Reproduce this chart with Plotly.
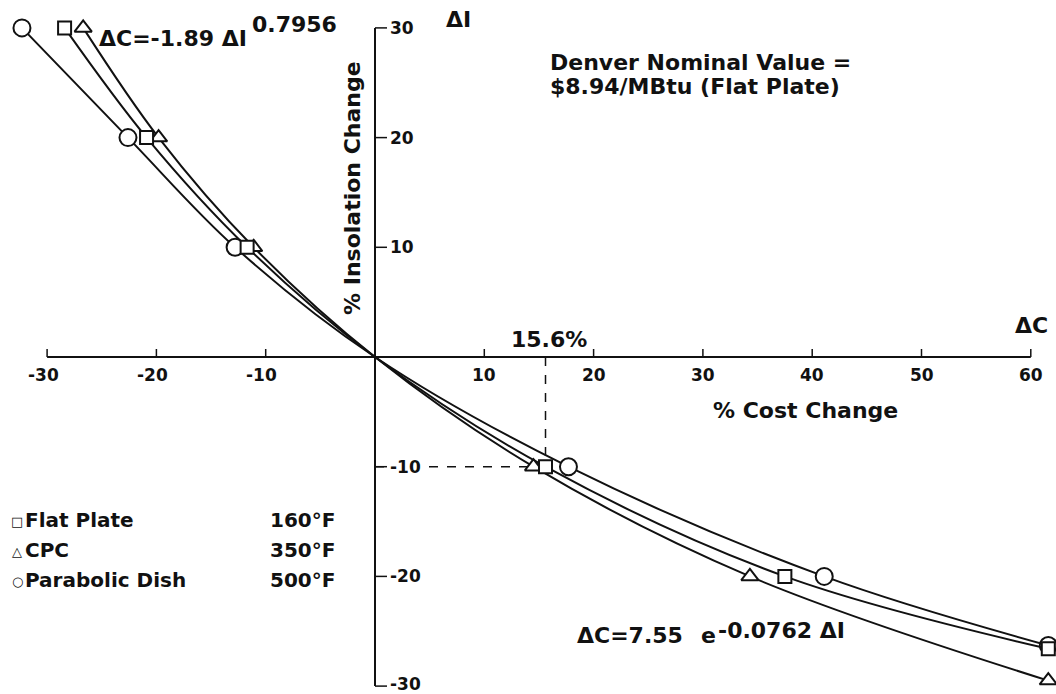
import plotly.graph_objects as go

# ---------------- data ----------------
flat_dC = [-28.4, -20.9, -11.7, 0, 15.6, 37.5, 61.6]
flat_dI = [30, 20, 10, 0, -10, -20, -26.6]
cpc_dC = [-26.7, -19.8, -11.1, 0, 14.5, 34.3, 61.6]
cpc_dI = [30, 20, 10, 0, -10, -20, -29.5]
dish_dC = [-32.3, -22.6, -12.8, 0, 17.7, 41.1, 61.6]
dish_dI = [30, 20, 10, 0, -10, -20, -26.3]

x_ticks = [-30, -20, -10, 10, 20, 30, 40, 50, 60]
y_ticks = [30, 20, 10, -10, -20, -30]
nominal_dC = 15.6
nominal_dI = -10

legend_names = ["Flat Plate", "CPC", "Parabolic Dish"]
legend_temps = ["160°F", "350°F", "500°F"]
legend_syms = ["□", "△", "○"]

# ---------------- layout helpers ----------------
W, H = 1056, 694
X0PIX, XSCALE = 375, 10.93
Y0PIX, YSCALE = 357, 10.97
x_range = [-X0PIX / XSCALE, (W - X0PIX) / XSCALE]
y_range = [-(H - Y0PIX) / YSCALE, Y0PIX / YSCALE]

FONT = "DejaVu Sans"
BLACK = "#111111"


def px(x):
    return x / W


def py(y):
    return 1 - y / H


fig = go.Figure()

series = [
    (dish_dC, dish_dI, "circle", 17),
    (cpc_dC, cpc_dI, "triangle-up", 15),
    (flat_dC, flat_dI, "square", 13),
]

for xs, ys, sym, sz in series:
    fig.add_trace(go.Scatter(
        x=xs, y=ys, mode="lines",
        line=dict(color=BLACK, width=2, shape="spline", smoothing=1.0),
        hoverinfo="skip", showlegend=False, cliponaxis=False,
    ))

for xs, ys, sym, sz in series:
    mx = [a for a, b in zip(xs, ys) if b != 0]
    my = [b for a, b in zip(xs, ys) if b != 0]
    fig.add_trace(go.Scatter(
        x=mx, y=my, mode="markers",
        marker=dict(symbol=sym, size=sz, color="white",
                    line=dict(color=BLACK, width=2)),
        showlegend=False, cliponaxis=False,
    ))

shapes = []
shapes.append(dict(type="line", xref="x", yref="y", x0=x_ticks[0], x1=x_ticks[-1], y0=0, y1=0,
                   line=dict(color=BLACK, width=2), layer="below"))
shapes.append(dict(type="line", xref="x", yref="y", x0=0, x1=0, y0=min(y_ticks), y1=max(y_ticks),
                   line=dict(color=BLACK, width=2), layer="below"))
for t in x_ticks:
    shapes.append(dict(type="line", xref="x", yref="y", x0=t, x1=t, ysizemode="pixel", yanchor=0,
                       y0=0, y1=8, line=dict(color=BLACK, width=1.5), layer="below"))
for t in y_ticks:
    shapes.append(dict(type="line", xref="x", yref="y", y0=t, y1=t, xsizemode="pixel", xanchor=0,
                       x0=0, x1=12, line=dict(color=BLACK, width=1.5), layer="below"))
shapes.append(dict(type="line", xref="x", yref="y", x0=0, x1=nominal_dC, y0=nominal_dI, y1=nominal_dI,
                   line=dict(color=BLACK, width=1.5, dash="dash"), layer="below"))
shapes.append(dict(type="line", xref="x", yref="y", x0=nominal_dC, x1=nominal_dC, y0=0, y1=nominal_dI,
                   line=dict(color=BLACK, width=1.5, dash="dash"), layer="below"))

ann = []
tickfont = dict(family=FONT, size=17, color=BLACK, weight="bold")
for t in x_ticks:
    ann.append(dict(x=t, y=0, xref="x", yref="y", text=str(t), showarrow=False,
                    xanchor="center", yanchor="middle", yshift=-18,
                    xshift=-4 if t < 0 else 0, font=tickfont))
for t in y_ticks:
    ann.append(dict(x=0, y=t, xref="x", yref="y", text=str(t), showarrow=False,
                    xanchor="left", yanchor="middle", xshift=14,
                    yshift=2 if t == min(y_ticks) else 0, font=tickfont,
                    bgcolor="white", borderpad=0))

big = dict(family=FONT, size=22, color=BLACK, weight="bold")


def text(xp, yp, s, xanchor="left", font=big, **kw):
    ann.append(dict(x=px(xp), y=py(yp), xref="paper", yref="paper", text=s, showarrow=False,
                    xanchor=xanchor, yanchor="middle", font=font, **kw))


text(97, 39, "ΔC=-1.89 ΔI")
text(250, 24, "0.7956")
text(444, 20, "ΔI")
text(1050, 325, "ΔC", xanchor="right")
text(548, 62, "Denver Nominal Value =")
text(548, 87, "$8.94/MBtu (Flat Plate)")
text(549, 339, "15.6%", xanchor="center")
text(805, 410, "% Cost Change", xanchor="center")
ann.append(dict(x=px(353), y=py(188), xref="paper", yref="paper", text="% Insolation Change",
                showarrow=False, textangle=-90, xanchor="center", yanchor="middle", font=big))
text(685, 635, "ΔC=7.55", xanchor="right")
text(699, 635, "e")
text(716, 630, "-0.0762 ΔI")

legfont = dict(family=FONT, size=20, color=BLACK, weight="bold")
symfont = dict(family=FONT, size=13, color=BLACK, weight="normal")
for i, (nm, tp, sy) in enumerate(zip(legend_names, legend_temps, legend_syms)):
    yy = 520 + 30 * i
    text(17, yy + 1, sy, xanchor="center", font=symfont)
    text(23, yy, nm, font=legfont)
    text(268, yy, tp, font=legfont)

fig.update_layout(
    width=W, height=H,
    margin=dict(l=0, r=0, t=0, b=0),
    paper_bgcolor="white", plot_bgcolor="white",
    xaxis=dict(range=x_range, visible=False, fixedrange=True),
    yaxis=dict(range=y_range, visible=False, fixedrange=True),
    shapes=shapes, annotations=ann, showlegend=False,
)

fig.write_html(
    "out.html",
    config={"displayModeBar": False},
    post_script="document.body.style.margin='0';document.body.style.overflow='hidden';",
)
